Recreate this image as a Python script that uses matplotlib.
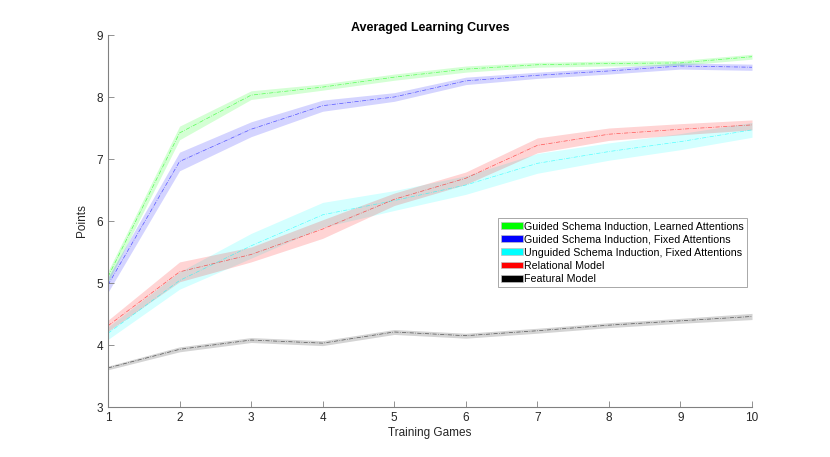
import matplotlib
matplotlib.use('Agg')
import matplotlib.pyplot as plt
from matplotlib.patches import Patch
import numpy as np

plt.rcParams['font.family'] = ['Liberation Sans', 'DejaVu Sans']

games = [1, 2, 3, 4, 5, 6, 7, 8, 9, 10]

labels = ['Guided Schema Induction, Learned Attentions',
          'Guided Schema Induction, Fixed Attentions',
          'Unguided Schema Induction, Fixed Attentions',
          'Relational Model',
          'Featural Model']
colors = ['#00ff00', '#0000ff', '#00ffff', '#ff0000', '#000000']

green_mean = [5.10, 7.42, 8.03, 8.16, 8.32, 8.45, 8.52, 8.54, 8.55, 8.65]
green_err = [0.09, 0.11, 0.07, 0.05, 0.05, 0.05, 0.04, 0.04, 0.04, 0.04]
blue_mean = [4.97, 6.96, 7.48, 7.86, 8.00, 8.26, 8.35, 8.42, 8.50, 8.48]
blue_err = [0.12, 0.15, 0.12, 0.09, 0.07, 0.06, 0.05, 0.05, 0.05, 0.05]
cyan_mean = [4.19, 5.04, 5.60, 6.10, 6.33, 6.58, 6.93, 7.12, 7.28, 7.47]
cyan_err = [0.10, 0.14, 0.20, 0.20, 0.16, 0.15, 0.16, 0.14, 0.13, 0.12]
red_mean = [4.31, 5.18, 5.46, 5.87, 6.35, 6.69, 7.22, 7.40, 7.48, 7.55]
red_err = [0.09, 0.16, 0.12, 0.15, 0.10, 0.10, 0.12, 0.10, 0.09, 0.08]
black_mean = [3.63, 3.93, 4.08, 4.03, 4.21, 4.15, 4.23, 4.32, 4.39, 4.46]
black_err = [0.03, 0.04, 0.04, 0.04, 0.04, 0.04, 0.04, 0.04, 0.04, 0.05]

means = [green_mean, blue_mean, cyan_mean, red_mean, black_mean]
errs = [green_err, blue_err, cyan_err, red_err, black_err]

fig = plt.figure(figsize=(8.3, 4.57), dpi=100)
ax = fig.add_axes([108 / 830, 1 - 407 / 457, (752 - 108) / 830, (407 - 35) / 457])

for m, e, c in zip(means, errs, colors):
    m = np.array(m)
    e = np.array(e)
    ax.fill_between(games, m - e, m + e, color=c, alpha=0.17, linewidth=0)
    ax.plot(games, m, color=c, linestyle=(0, (6, 2, 1, 2)), linewidth=0.5, alpha=0.6)

ax.set_xlim(1, 10)
ax.set_ylim(3, 9)
ax.set_xticks(games)
ax.set_yticks(range(3, 10))
ax.spines['top'].set_visible(False)
ax.spines['right'].set_visible(False)
for s in ('left', 'bottom'):
    ax.spines[s].set_color('#808080')
    ax.spines[s].set_linewidth(0.8)
ax.tick_params(direction='in', length=4, width=0.6, color='#808080',
               labelsize=8.5, labelcolor='#262626')

ax.set_title('Averaged Learning Curves', fontsize=9, fontweight='bold', pad=3)
ax.set_xlabel('Training Games', fontsize=8.5, color='#262626', labelpad=2)
ax.set_ylabel('Points', fontsize=8.5, color='#262626', labelpad=6)

handles = [Patch(facecolor=c, edgecolor='#c0c0c0', linewidth=0.5) for c in colors]
leg = ax.legend(handles, labels, loc='upper left', bbox_to_anchor=(390 / 644, 1 - 183 / 372),
                fontsize=7.7, frameon=True, fancybox=False, borderpad=0.3,
                handlelength=2.0, handleheight=0.6, handletextpad=0.15,
                labelspacing=0.3, borderaxespad=0)
leg.get_frame().set_edgecolor('#808080')
leg.get_frame().set_linewidth(0.6)

fig.savefig('out.png', dpi=100)
